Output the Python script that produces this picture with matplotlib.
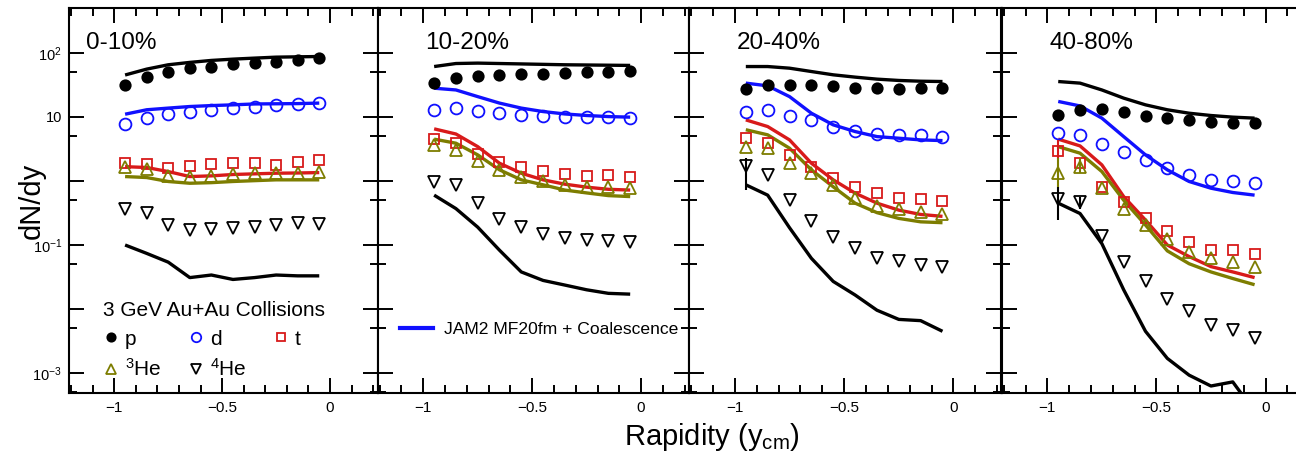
import numpy as np
import matplotlib
matplotlib.use('Agg')
import matplotlib.pyplot as plt
from matplotlib.lines import Line2D
from matplotlib.ticker import MultipleLocator, LogLocator, FuncFormatter, NullFormatter

plt.rcParams['font.family'] = ['Liberation Sans', 'DejaVu Sans']
plt.rcParams['mathtext.fontset'] = 'custom'
plt.rcParams['mathtext.rm'] = 'Liberation Sans'
plt.rcParams['mathtext.it'] = 'Liberation Sans:italic'

rapidity = [-0.95, -0.85, -0.75, -0.65, -0.55, -0.45, -0.35, -0.25, -0.15, -0.05]
centralities = ['0-10%', '10-20%', '20-40%', '40-80%']

# measured dN/dy, one row per centrality class
p_data = [
    [31.6, 41.7, 51, 57.5, 61, 66.6, 69, 72, 77, 81.5],
    [34.3, 40.3, 42.7, 44.9, 47, 47, 49.2, 49.9, 50.5, 52.8],
    [27.1, 31.6, 31.6, 30.9, 29.8, 28.4, 28, 27.7, 28, 28.7],
    [10.7, 12.9, 13.2, 12.1, 10.4, 9.55, 8.8, 8.46, 8.15, 7.95],
]
d_data = [
    [7.8, 9.6, 10.9, 12, 12.9, 13.8, 14.5, 15.2, 16, 16.4],
    [12.9, 13.7, 12.5, 11.4, 10.7, 10.4, 9.9, 9.8, 9.8, 9.55],
    [11.8, 12.9, 10.4, 8.8, 6.9, 6.0, 5.37, 5.24, 5.24, 4.92],
    [5.56, 5.24, 3.79, 2.87, 2.13, 1.58, 1.24, 1.04, 0.98, 0.94],
]
t_data = [
    [1.93, 1.85, 1.62, 1.73, 1.85, 1.91, 1.89, 1.8, 1.98, 2.13],
    [4.49, 3.96, 2.64, 2.0, 1.64, 1.45, 1.29, 1.2, 1.23, 1.17],
    [4.64, 3.96, 2.55, 1.67, 1.10, 0.81, 0.645, 0.54, 0.52, 0.49],
    [2.98, 1.89, 0.81, 0.475, 0.26, 0.165, 0.112, 0.085, 0.085, 0.072],
]
he3_data = [
    [1.67, 1.52, 1.2, 1.17, 1.21, 1.27, 1.32, 1.32, 1.35, 1.38],
    [3.65, 3.05, 2.05, 1.49, 1.17, 0.98, 0.87, 0.81, 0.81, 0.77],
    [3.43, 3.24, 1.89, 1.32, 0.87, 0.54, 0.40, 0.36, 0.33, 0.31],
    [1.32, 1.67, 0.77, 0.37, 0.205, 0.126, 0.079, 0.062, 0.055, 0.046],
]
he4_data = [
    [0.369, 0.313, 0.205, 0.171, 0.178, 0.186, 0.193, 0.205, 0.223, 0.213],
    [0.96, 0.87, 0.45, 0.255, 0.19, 0.148, 0.128, 0.12, 0.115, 0.111],
    [1.7, 1.24, 0.50, 0.24, 0.135, 0.089, 0.062, 0.056, 0.049, 0.045],
    [0.52, 0.475, 0.138, 0.055, 0.027, 0.0144, 0.0093, 0.0057, 0.0047, 0.0036],
]

# JAM2 MF20fm + coalescence curves
p_model = [
    [45, 55.6, 65, 70.8, 76, 79.6, 82.6, 85.5, 86.5, 87.5],
    [61, 68, 69, 68, 67, 66, 65, 64.5, 64, 63.5],
    [61, 61, 57.5, 51, 45.3, 41.7, 38.8, 37, 36, 35.6],
    [35.6, 33.6, 26.3, 19.6, 15.4, 12.9, 11.4, 10.5, 9.9, 9.55],
]
d_model = [
    [11, 12.9, 13.7, 14.5, 15, 15.4, 15.9, 16, 16.1, 16.4],
    [28, 26.3, 20.7, 16.4, 13.7, 12.1, 11.1, 10.5, 10.1, 9.9],
    [33.6, 30.5, 20.7, 11.4, 7.5, 5.9, 4.92, 4.64, 4.37, 4.26],
    [17.4, 14.8, 9.55, 4.92, 2.55, 1.49, 0.98, 0.77, 0.66, 0.6],
]
t_model = [
    [1.67, 1.62, 1.40, 1.17, 1.2, 1.26, 1.29, 1.32, 1.33, 1.35],
    [6.5, 5.4, 3.43, 1.89, 1.32, 1.04, 0.89, 0.8, 0.74, 0.72],
    [8.97, 7.06, 4.37, 1.89, 1.04, 0.645, 0.45, 0.35, 0.30, 0.28],
    [4.49, 3.52, 1.78, 0.57, 0.245, 0.1, 0.066, 0.046, 0.038, 0.031],
]
he3_model = [
    [1.17, 1.13, 0.98, 0.92, 0.94, 0.98, 1.01, 1.04, 1.04, 1.04],
    [4.49, 3.88, 2.55, 1.49, 1.04, 0.87, 0.72, 0.65, 0.59, 0.57],
    [6.3, 5.24, 3.24, 1.49, 0.81, 0.45, 0.32, 0.26, 0.23, 0.223],
    [3.43, 2.71, 1.40, 0.5, 0.205, 0.081, 0.051, 0.038, 0.030, 0.024],
]
he4_model = [
    [0.1, 0.074, 0.054, 0.031, 0.034, 0.029, 0.031, 0.034, 0.033, 0.033],
    [0.6, 0.37, 0.19, 0.083, 0.038, 0.028, 0.0237, 0.02, 0.0176, 0.0171],
    [0.87, 0.6, 0.186, 0.062, 0.027, 0.0166, 0.0096, 0.0069, 0.0066, 0.0045],
    [0.45, 0.31, 0.105, 0.02, 0.0045, 0.0017, 0.00093, 0.00063, 0.00073, 0.00025],
]

# visible error bars: (panel, species, point index, low, high)
err_bars = [
    (2, 'he4', 0, 0.72, 2.29),
    (3, 't', 0, 2.2, 4.3),
    (3, 'he3', 0, 0.81, 2.3),
    (3, 'he3', 1, 1.32, 2.3),
    (3, 'he4', 0, 0.245, 0.81),
    (3, 'he4', 1, 0.37, 0.56),
]

RED = '#d81a1a'
OLIVE = '#7d7d00'
BLUE = '#1010ff'

species = {
    'p':   dict(data=p_data, model=p_model, color='black', marker='o', fill=True, ms=7.5),
    'd':   dict(data=d_data, model=d_model, color=BLUE, marker='o', fill=False, ms=8.5),
    't':   dict(data=t_data, model=t_model, color=RED, marker='s', fill=False, ms=7.5),
    'he3': dict(data=he3_data, model=he3_model, color=OLIVE, marker='^', fill=False, ms=8.5),
    'he4': dict(data=he4_data, model=he4_model, color='black', marker='v', fill=False, ms=8.5),
}

W, H = 1296, 462
fig = plt.figure(figsize=(W / 100, H / 100), dpi=100)

left_px = [69, 377.5, 689, 1001.5]
width_px = [308.5, 311.5, 312.5, 312]
bottom_px, top_px = 393, 8

def decade_label(v, pos):
    labels = {100: r'$10^{2}$', 10: '10', 0.1: r'$10^{-1}$', 0.001: r'$10^{-3}$'}
    for k, s in labels.items():
        if np.isclose(v, k):
            return s
    return ''

def rap_label(v, pos):
    return ('%g' % v).replace('-', '\u2212')

axes = []
for i in range(4):
    ax = fig.add_axes([left_px[i] / W, 1 - bottom_px / H,
                       width_px[i] / W, (bottom_px - top_px) / H])
    axes.append(ax)
    ax.set_yscale('log')
    ax.set_ylim(4.9e-4, 500)
    ax.set_xlim(-1.21, 0.22)

    for key, sp in species.items():
        ax.plot(rapidity, sp['model'][i], color=sp['color'], lw=2.4, zorder=2,
                solid_capstyle='butt')
    for key, sp in species.items():
        ax.plot(rapidity, sp['data'][i], ls='none', marker=sp['marker'], ms=sp['ms'],
                mec=sp['color'], mfc=sp['color'] if sp['fill'] else 'none',
                mew=1.3, zorder=3)
    for panel, key, idx, lo, hi in err_bars:
        if panel == i:
            ax.vlines(rapidity[idx], lo, hi, color=species[key]['color'], lw=1.5, zorder=3)

    ax.xaxis.set_major_locator(MultipleLocator(0.5))
    ax.xaxis.set_minor_locator(MultipleLocator(0.1))
    ax.xaxis.set_major_formatter(FuncFormatter(rap_label))
    ax.yaxis.set_major_locator(LogLocator(base=10, numticks=20))
    ax.yaxis.set_minor_locator(LogLocator(base=10, subs=[5], numticks=20))
    ax.yaxis.set_minor_formatter(NullFormatter())
    ax.tick_params(which='both', direction='in', top=True, right=True, width=1.4)
    ax.tick_params(which='major', length=11)
    ax.tick_params(which='minor', length=6)
    ax.tick_params(axis='x', labelsize=11, pad=6)
    ax.tick_params(axis='y', labelsize=10.5, pad=5)
    if i == 0:
        ax.yaxis.set_major_formatter(FuncFormatter(decade_label))
    else:
        ax.yaxis.set_major_formatter(NullFormatter())
    for s in ax.spines.values():
        s.set_linewidth(1.5)

    lx = -1.13 if i == 0 else -0.99
    ax.text(lx, 0.909, centralities[i], transform=ax.get_xaxis_transform(),
            fontsize=17.5, va='center', ha='left')

# species legend in the first panel
handles = []
labels = []
for key, lab in [('p', 'p'), ('he3', r'$^{3}$He'), ('d', 'd'), ('he4', r'$^{4}$He'), ('t', 't')]:
    sp = species[key]
    handles.append(Line2D([], [], ls='none', marker=sp['marker'], ms=sp['ms'] * 0.8,
                          mec=sp['color'], mfc=sp['color'] if sp['fill'] else 'none', mew=1.3))
    labels.append(lab)
leg = axes[0].legend(handles, labels, ncol=3, title='3 GeV Au+Au Collisions',
                     loc='upper left', bbox_to_anchor=(0.109, 0.238), frameon=False,
                     fontsize=15, title_fontsize=15, alignment='left',
                     borderpad=0, borderaxespad=0, handlelength=0.77,
                     handletextpad=0.3, columnspacing=1.25, labelspacing=0.45)

# model legend in the second panel
axes[1].legend([Line2D([], [], color=BLUE, lw=3)], ['JAM2 MF20fm + Coalescence'],
               loc='center left', bbox_to_anchor=(0.072, 0.166), frameon=False,
               fontsize=12.6, borderpad=0, borderaxespad=0,
               handlelength=1.9, handletextpad=0.6)

fig.text(32 / W, 1 - 200.5 / H, 'dN/dy', rotation=90, fontsize=21, ha='center', va='center')
fig.text(712 / W, 1 - 437 / H, r'Rapidity (y$_{\rm cm}$)', fontsize=21, ha='center', va='center')

fig.savefig('out.png', dpi=100)
